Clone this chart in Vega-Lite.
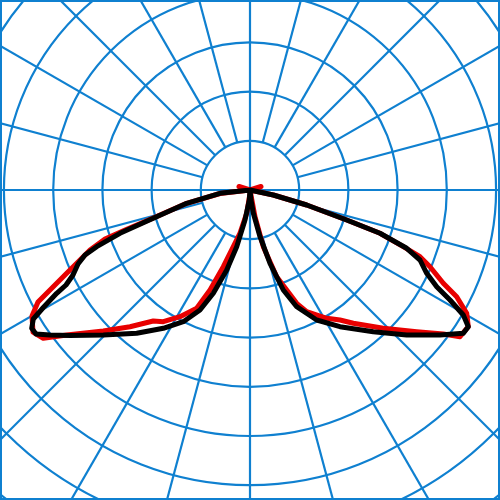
{
  "$schema": "https://vega.github.io/schema/vega-lite/v6.json",
  "description": "Polar light distribution diagram with two curves.",
  "width": 500,
  "height": 500,
  "autosize": {"type": "fit", "contains": "padding"},
  "padding": 0,
  "background": "white",
  "view": {"stroke": "#0f80d0", "strokeWidth": 4},
  "datasets": {
    "circles": [
      {"r": 49.2}, {"r": 98.4}, {"r": 147.6}, {"r": 196.8},
      {"r": 246}, {"r": 295.2}, {"r": 344.4}, {"r": 393.6}
    ],
    "spokes": [
      {"x": -420, "y": 0, "x2": 420, "y2": 0},
      {"x": 0, "y": -420, "x2": 0, "y2": 420},
      {"x": 47.52, "y": 12.73, "x2": 405.69, "y2": 108.7},
      {"x": 42.61, "y": 24.6, "x2": 363.73, "y2": 210},
      {"x": 34.79, "y": 34.79, "x2": 296.98, "y2": 296.98},
      {"x": 24.6, "y": 42.61, "x2": 210, "y2": 363.73},
      {"x": 12.73, "y": 47.52, "x2": 108.7, "y2": 405.69},
      {"x": -47.52, "y": 12.73, "x2": -405.69, "y2": 108.7},
      {"x": -42.61, "y": 24.6, "x2": -363.73, "y2": 210},
      {"x": -34.79, "y": 34.79, "x2": -296.98, "y2": 296.98},
      {"x": -24.6, "y": 42.61, "x2": -210, "y2": 363.73},
      {"x": -12.73, "y": 47.52, "x2": -108.7, "y2": 405.69},
      {"x": 47.52, "y": -12.73, "x2": 405.69, "y2": -108.7},
      {"x": 42.61, "y": -24.6, "x2": 363.73, "y2": -210},
      {"x": 34.79, "y": -34.79, "x2": 296.98, "y2": -296.98},
      {"x": 24.6, "y": -42.61, "x2": 210, "y2": -363.73},
      {"x": 12.73, "y": -47.52, "x2": 108.7, "y2": -405.69},
      {"x": -47.52, "y": -12.73, "x2": -405.69, "y2": -108.7},
      {"x": -42.61, "y": -24.6, "x2": -363.73, "y2": -210},
      {"x": -34.79, "y": -34.79, "x2": -296.98, "y2": -296.98},
      {"x": -24.6, "y": -42.61, "x2": -210, "y2": -363.73},
      {"x": -12.73, "y": -47.52, "x2": -108.7, "y2": -405.69}
    ],
    "red": [
      {"i": 1, "x": -11, "y": 3.5},
      {"i": 2, "x": 0, "y": 0},
      {"i": 3, "x": -30, "y": -3.5},
      {"i": 4, "x": -63.3, "y": -13.3},
      {"i": 5, "x": -96.7, "y": -28},
      {"i": 6, "x": -125, "y": -40},
      {"i": 7, "x": -145, "y": -49},
      {"i": 8, "x": -160, "y": -60},
      {"i": 9, "x": -170, "y": -70},
      {"i": 10, "x": -183.3, "y": -83.3},
      {"i": 11, "x": -200, "y": -100},
      {"i": 12, "x": -212, "y": -112},
      {"i": 13, "x": -218, "y": -126},
      {"i": 14, "x": -217, "y": -142},
      {"i": 15, "x": -206.7, "y": -148.3},
      {"i": 16, "x": -183.3, "y": -145},
      {"i": 17, "x": -146.7, "y": -141},
      {"i": 18, "x": -120, "y": -136.7},
      {"i": 19, "x": -96.7, "y": -131},
      {"i": 20, "x": -86.7, "y": -131.7},
      {"i": 21, "x": -70, "y": -126.7},
      {"i": 22, "x": -53.3, "y": -118.3},
      {"i": 23, "x": -40, "y": -100},
      {"i": 24, "x": -26.7, "y": -76.7},
      {"i": 25, "x": -16.7, "y": -56.7},
      {"i": 26, "x": -10, "y": -43},
      {"i": 27, "x": -3.3, "y": -23.3},
      {"i": 28, "x": 0, "y": -3.3},
      {"i": 29, "x": 0, "y": 0},
      {"i": 30, "x": 5, "y": -26.7},
      {"i": 31, "x": 13.3, "y": -56.7},
      {"i": 32, "x": 26.7, "y": -86.7},
      {"i": 33, "x": 46.7, "y": -113.3},
      {"i": 34, "x": 56.7, "y": -121.7},
      {"i": 35, "x": 76.7, "y": -128.3},
      {"i": 36, "x": 90, "y": -130},
      {"i": 37, "x": 103.3, "y": -133.3},
      {"i": 38, "x": 133.3, "y": -138.3},
      {"i": 39, "x": 166.7, "y": -141.7},
      {"i": 40, "x": 193.3, "y": -144},
      {"i": 41, "x": 210, "y": -146.7},
      {"i": 42, "x": 218.3, "y": -136.7},
      {"i": 43, "x": 216.7, "y": -123.3},
      {"i": 44, "x": 206.7, "y": -106.7},
      {"i": 45, "x": 193.3, "y": -93.3},
      {"i": 46, "x": 180, "y": -76.7},
      {"i": 47, "x": 170, "y": -66.7},
      {"i": 48, "x": 153.3, "y": -56.7},
      {"i": 49, "x": 130, "y": -43.3},
      {"i": 50, "x": 96.7, "y": -30},
      {"i": 51, "x": 56.7, "y": -15},
      {"i": 52, "x": 23.3, "y": -5},
      {"i": 53, "x": 0, "y": 0},
      {"i": 54, "x": 11, "y": 3.5}
    ],
    "black": [
      {"i": 1, "x": 0, "y": 0},
      {"i": 2, "x": -30, "y": -3.3},
      {"i": 3, "x": -63.3, "y": -13.3},
      {"i": 4, "x": -96.7, "y": -28.3},
      {"i": 5, "x": -130, "y": -43.3},
      {"i": 6, "x": -153.3, "y": -56.7},
      {"i": 7, "x": -165, "y": -65},
      {"i": 8, "x": -172, "y": -74},
      {"i": 9, "x": -177, "y": -85},
      {"i": 10, "x": -184, "y": -95},
      {"i": 11, "x": -193.3, "y": -103.3},
      {"i": 12, "x": -206.7, "y": -117.5},
      {"i": 13, "x": -216.7, "y": -129},
      {"i": 14, "x": -218.3, "y": -138.3},
      {"i": 15, "x": -214, "y": -144},
      {"i": 16, "x": -200, "y": -145},
      {"i": 17, "x": -180, "y": -145.5},
      {"i": 18, "x": -146.7, "y": -145},
      {"i": 19, "x": -113.3, "y": -143.3},
      {"i": 20, "x": -86.7, "y": -138.3},
      {"i": 21, "x": -66.7, "y": -131.7},
      {"i": 22, "x": -50, "y": -120},
      {"i": 23, "x": -36.7, "y": -103.3},
      {"i": 24, "x": -23.3, "y": -80},
      {"i": 25, "x": -13.3, "y": -56.7},
      {"i": 26, "x": -5, "y": -30},
      {"i": 27, "x": -0.7, "y": -10},
      {"i": 28, "x": 0, "y": 0},
      {"i": 29, "x": 1, "y": -10},
      {"i": 30, "x": 3.3, "y": -23},
      {"i": 31, "x": 10, "y": -46.7},
      {"i": 32, "x": 20, "y": -73.3},
      {"i": 33, "x": 33.3, "y": -100},
      {"i": 34, "x": 46.7, "y": -116.7},
      {"i": 35, "x": 66.7, "y": -130},
      {"i": 36, "x": 90, "y": -136.7},
      {"i": 37, "x": 123.3, "y": -141.7},
      {"i": 38, "x": 156.7, "y": -145},
      {"i": 39, "x": 190, "y": -145},
      {"i": 40, "x": 213.3, "y": -143.3},
      {"i": 41, "x": 218.3, "y": -136.7},
      {"i": 42, "x": 213.3, "y": -125},
      {"i": 43, "x": 200, "y": -110},
      {"i": 44, "x": 186.7, "y": -96.7},
      {"i": 45, "x": 176.7, "y": -83.3},
      {"i": 46, "x": 170, "y": -70},
      {"i": 47, "x": 156.7, "y": -58.3},
      {"i": 48, "x": 130, "y": -43.3},
      {"i": 49, "x": 96.7, "y": -30},
      {"i": 50, "x": 56.7, "y": -15},
      {"i": 51, "x": 23.3, "y": -5},
      {"i": 52, "x": 0, "y": 0}
    ]
  },
  "layer": [
    {
      "data": {"name": "circles"},
      "mark": {"type": "arc", "theta": 0, "theta2": 6.2832, "filled": false, "fill": null, "stroke": "#0f80d0", "strokeWidth": 2.2, "clip": true},
      "encoding": {
        "x": {"datum": 0, "type": "quantitative", "scale": {"domain": [-250, 250], "nice": false, "zero": false}, "axis": null},
        "y": {"datum": 0, "type": "quantitative", "scale": {"domain": [-310, 190], "nice": false, "zero": false}, "axis": null},
        "radius": {"field": "r", "type": "quantitative", "stack": null, "scale": {"type": "linear", "domain": [0, 100], "range": [0, 100], "zero": true}, "legend": null}
      }
    },
    {
      "data": {"name": "spokes"},
      "mark": {"type": "rule", "stroke": "#0f80d0", "strokeWidth": 2.2, "clip": true},
      "encoding": {
        "x": {"field": "x", "type": "quantitative", "axis": null},
        "y": {"field": "y", "type": "quantitative", "axis": null},
        "x2": {"field": "x2"},
        "y2": {"field": "y2"}
      }
    },
    {
      "data": {"name": "red"},
      "mark": {"type": "line", "stroke": "#e80000", "strokeWidth": 5, "strokeCap": "round", "strokeJoin": "round", "clip": true},
      "encoding": {
        "x": {"field": "x", "type": "quantitative", "axis": null},
        "y": {"field": "y", "type": "quantitative", "axis": null},
        "order": {"field": "i", "type": "quantitative"}
      }
    },
    {
      "data": {"name": "black"},
      "mark": {"type": "line", "stroke": "#000000", "strokeWidth": 5, "strokeCap": "round", "strokeJoin": "round", "clip": true},
      "encoding": {
        "x": {"field": "x", "type": "quantitative", "axis": null},
        "y": {"field": "y", "type": "quantitative", "axis": null},
        "order": {"field": "i", "type": "quantitative"}
      }
    }
  ]
}
